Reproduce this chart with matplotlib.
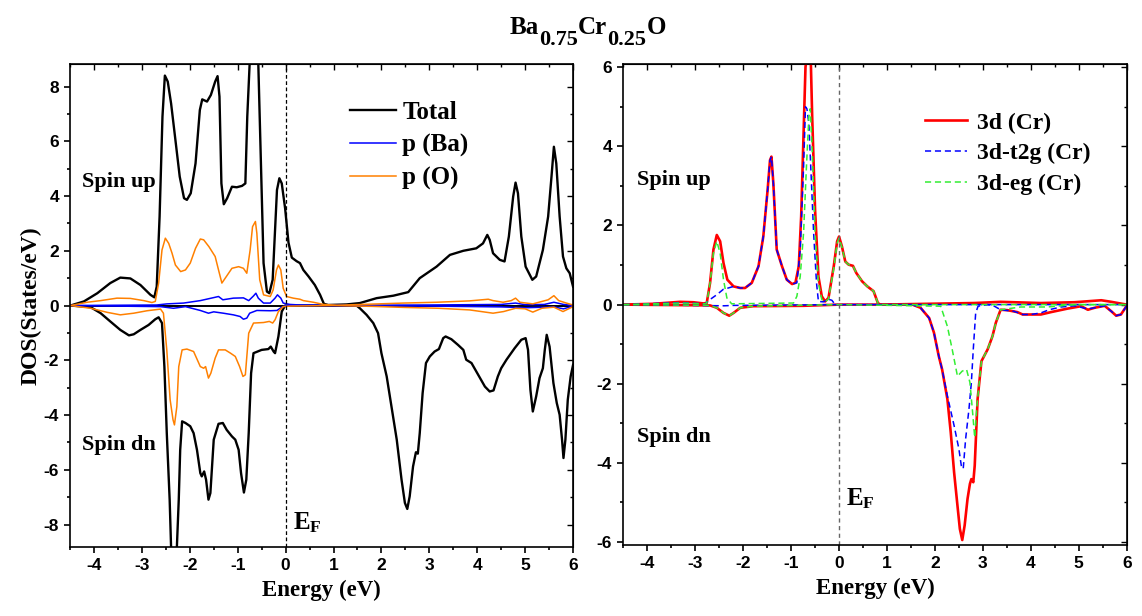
import numpy as np
import matplotlib
matplotlib.use('Agg')
import matplotlib.pyplot as plt
from matplotlib.ticker import MultipleLocator
from matplotlib.transforms import IdentityTransform

# ---- painel esquerdo: DOS total e parciais p ----
tot_up_e = [-4.49,-4.21,-3.93,-3.66,-3.45,-3.24,-3.03,-2.82,-2.74,-2.69,-2.63,-2.57,-2.52,-2.46,-2.39,-2.30,-2.21,-2.12,-2.06,-1.98,
            -1.88,-1.79,-1.74,-1.64,-1.56,-1.47,-1.42,-1.38,-1.34,-1.29,-1.22,-1.12,-1.02,-0.91,-0.84,-0.80,-0.75,-0.66,-0.57,-0.46,
            -0.39,-0.34,-0.27,-0.18,-0.13,-0.08,-0.01,0.06,0.13,0.23,0.30,0.37,0.48,0.61,0.72,0.80,0.89,1.27,1.55,1.90,
            2.25,2.56,2.80,3.15,3.43,3.71,3.98,4.12,4.21,4.26,4.33,4.47,4.57,4.66,4.75,4.80,4.85,4.92,5.01,5.15,
            5.23,5.37,5.48,5.55,5.60,5.65,5.72,5.79,5.86,5.93,6.00]
tot_up = [0.0,0.15,0.45,0.82,1.02,0.99,0.75,0.39,0.30,0.69,3.25,6.9,8.4,8.18,7.38,6.05,4.71,3.92,3.86,4.10,
          5.19,7.14,7.53,7.45,7.69,8.18,8.38,7.63,4.46,3.70,3.92,4.34,4.32,4.37,4.46,6.9,8.85,14.0,8.85,1.55,
          0.51,0.45,0.94,4.22,4.65,4.46,3.55,2.3,1.75,1.62,1.55,1.30,1.06,0.75,0.39,0.06,0.02,0.04,0.09,0.27,
          0.36,0.49,1.00,1.42,1.85,2.0,2.09,2.27,2.58,2.40,1.91,1.67,1.61,2.52,3.98,4.49,4.10,2.52,1.42,0.94,
          1.06,2.03,3.25,4.71,5.80,5.19,3.25,1.79,1.36,1.18,0.69]

tot_dn_e = [-4.49,-4.07,-3.86,-3.66,-3.45,-3.27,-3.17,-3.03,-2.86,-2.72,-2.65,-2.58,-2.53,-2.48,-2.42,-2.39,-2.34,-2.27,-2.23,-2.20,
            -2.16,-2.09,-1.99,-1.92,-1.85,-1.78,-1.75,-1.70,-1.66,-1.61,-1.57,-1.50,-1.40,-1.31,-1.23,-1.12,-1.05,-0.98,-0.93,-0.87,
            -0.82,-0.77,-0.72,-0.67,-0.50,-0.36,-0.31,-0.25,-0.22,-0.15,-0.08,-0.01,1.48,1.55,1.69,1.83,1.93,2.00,2.11,2.21,
            2.32,2.42,2.49,2.54,2.59,2.66,2.72,2.76,2.80,2.86,2.93,3.01,3.11,3.20,3.29,3.34,3.46,3.60,3.71,3.77,
            3.88,4.02,4.16,4.26,4.34,4.43,4.50,4.61,4.78,4.92,5.01,5.06,5.11,5.16,5.23,5.30,5.37,5.41,5.45,5.51,
            5.59,5.66,5.72,5.77,5.80,5.84,5.89,5.95,6.00]
tot_dn = [0.0,-0.06,-0.28,-0.58,-0.89,-1.09,-1.05,-0.89,-0.71,-0.50,-0.43,-0.64,-2.23,-4.66,-7.09,-8.85,-14.0,-8.85,-7.09,-5.27,
          -4.23,-4.29,-4.41,-4.66,-5.27,-6.12,-6.24,-6.06,-6.36,-7.09,-6.85,-4.90,-4.32,-4.29,-4.54,-4.78,-4.90,-5.27,-6.12,-6.83,
          -6.36,-4.66,-2.47,-1.74,-1.62,-1.59,-1.50,-1.68,-1.74,-1.13,-0.22,0.0,0.0,-0.10,-0.34,-0.64,-1.01,-1.74,-2.59,-3.69,
          -4.90,-6.36,-7.21,-7.43,-6.97,-5.88,-5.36,-5.41,-4.66,-3.20,-2.10,-1.86,-1.68,-1.59,-1.19,-1.13,-1.23,-1.44,-1.62,-1.98,
          -2.10,-2.53,-2.96,-3.14,-3.10,-2.59,-2.29,-1.98,-1.56,-1.25,-1.19,-1.62,-3.08,-3.87,-3.32,-2.65,-2.29,-1.62,-1.07,-1.50,
          -2.83,-3.56,-3.99,-4.90,-5.57,-4.90,-3.44,-2.59,-2.17]

pO_up_e = [-4.49,-4.14,-3.86,-3.52,-3.24,-2.96,-2.79,-2.72,-2.65,-2.58,-2.51,-2.44,-2.37,-2.30,-2.19,-2.09,-1.99,-1.88,-1.78,-1.71,
           -1.60,-1.47,-1.40,-1.33,-1.26,-1.12,-0.98,-0.88,-0.81,-0.74,-0.69,-0.63,-0.60,-0.54,-0.46,-0.32,-0.26,-0.19,-0.15,-0.10,
           -0.05,0.02,0.16,0.30,0.37,0.58,0.79,1.07,1.76,2.45,3.15,3.84,4.23,4.33,4.54,4.71,4.80,4.89,5.16,5.48,
           5.60,5.70,5.86,6.00]
pO_up = [0.0,0.12,0.18,0.27,0.26,0.18,0.11,0.15,0.82,2.03,2.46,2.27,1.91,1.48,1.24,1.30,1.55,2.09,2.43,2.40,
         2.15,1.79,1.30,0.82,1.00,1.36,1.42,1.36,1.18,2.03,2.88,3.07,2.64,0.94,0.39,0.33,0.57,1.30,1.48,1.30,
         0.63,0.33,0.27,0.23,0.18,0.12,0.04,0.01,0.05,0.09,0.12,0.17,0.23,0.18,0.12,0.18,0.27,0.12,0.06,0.21,
         0.36,0.18,0.09,0.02]

pO_dn_e = [-4.49,-4.07,-3.72,-3.45,-3.17,-2.89,-2.61,-2.55,-2.48,-2.41,-2.35,-2.32,-2.27,-2.23,-2.16,-2.06,-1.92,-1.78,-1.71,-1.67,
           -1.61,-1.56,-1.47,-1.40,-1.26,-1.15,-1.05,-0.96,-0.89,-0.84,-0.77,-0.67,-0.46,-0.34,-0.27,-0.22,-0.15,-0.05,0.10,1.00,
           1.80,2.50,3.20,3.84,4.33,4.55,4.80,5.00,5.16,5.35,5.60,5.79,6.00]
pO_dn = [0.0,-0.10,-0.25,-0.34,-0.28,-0.19,-0.13,-0.28,-1.62,-3.44,-4.17,-4.36,-3.69,-2.23,-1.62,-1.59,-1.68,-2.23,-2.29,-2.23,
         -2.65,-2.47,-1.92,-1.62,-1.62,-1.74,-1.86,-2.23,-2.59,-2.53,-1.01,-0.64,-0.62,-0.58,-0.64,-0.52,-0.22,-0.04,-0.02,0.0,
         -0.03,-0.07,-0.10,-0.16,-0.28,-0.22,-0.10,-0.12,-0.24,-0.10,-0.06,-0.22,-0.04]

pBa_up_e = [-4.49,-2.69,-2.48,-2.13,-1.78,-1.50,-1.40,-1.31,-1.09,-0.88,-0.77,-0.67,-0.62,-0.57,-0.46,-0.32,-0.22,-0.17,-0.10,-0.05,
            0.09,0.30,1.00,3.00,4.50,4.80,5.00,5.40,5.60,5.80,6.00]
pBa_up = [0.0,0.02,0.06,0.09,0.18,0.29,0.33,0.21,0.27,0.28,0.18,0.35,0.45,0.27,0.09,0.09,0.27,0.39,0.27,0.09,
          0.04,0.02,0.01,0.02,0.04,0.09,0.03,0.04,0.12,0.04,0.0]

pBa_dn_e = [-4.49,-2.61,-2.34,-2.09,-1.78,-1.61,-1.50,-1.30,-1.09,-0.95,-0.88,-0.81,-0.75,-0.60,-0.32,-0.18,-0.08,0.0,1.00,3.00,
            4.50,5.00,5.60,5.80,6.00]
pBa_dn = [0.0,-0.04,-0.10,-0.04,-0.18,-0.28,-0.23,-0.28,-0.34,-0.40,-0.50,-0.46,-0.28,-0.18,-0.19,-0.18,-0.06,0.0,-0.01,-0.02,
          -0.05,-0.08,-0.05,-0.12,-0.02]

# ---- painel direito: 3d do Cr ----
d_up_e = [-4.50,-3.88,-3.32,-3.04,-2.83,-2.76,-2.69,-2.62,-2.55,-2.48,-2.41,-2.33,-2.20,-2.06,-1.96,-1.82,-1.68,-1.58,-1.49,-1.44,
          -1.41,-1.37,-1.30,-1.19,-1.09,-0.98,-0.91,-0.84,-0.79,-0.74,-0.70,-0.67,-0.63,-0.59,-0.56,-0.50,-0.43,-0.36,-0.29,-0.22,
          -0.11,-0.04,0.0,0.06,0.13,0.20,0.29,0.36,0.48,0.59,0.72,0.81,0.86,2.82,3.37,4.21,4.91,5.47,5.68,6.00]
d_up = [0.0,0.02,0.07,0.06,0.03,0.04,0.55,1.39,1.76,1.60,1.05,0.63,0.46,0.42,0.42,0.55,0.97,1.72,2.90,3.65,
        3.74,3.06,1.39,0.97,0.63,0.52,0.55,0.97,2.23,4.32,6.0,6.3,7.5,6.2,4.74,2.39,0.71,0.21,0.08,0.17,
        0.97,1.60,1.72,1.47,1.09,1.01,0.98,0.80,0.59,0.46,0.34,0.04,0.0,0.04,0.07,0.04,0.06,0.11,0.07,0.0]

d_dn_e = [-4.50,-2.69,-2.55,-2.41,-2.29,-2.20,-2.06,-1.79,-0.74,0.0,1.53,1.70,1.88,1.98,2.08,2.15,2.26,2.33,2.40,2.47,
          2.52,2.57,2.62,2.68,2.73,2.76,2.80,2.83,2.89,2.97,3.10,3.20,3.27,3.37,3.51,3.72,3.83,4.00,4.21,4.42,
          4.77,5.05,5.19,5.33,5.54,5.68,5.78,5.88,6.00]
d_dn = [0.0,-0.02,-0.08,-0.21,-0.28,-0.21,-0.08,-0.04,-0.03,0.0,0.0,-0.08,-0.34,-0.71,-1.30,-1.64,-2.39,-3.23,-4.24,-5.08,
        -5.67,-5.95,-5.58,-4.91,-4.53,-4.41,-4.49,-4.07,-2.39,-1.43,-1.13,-0.80,-0.46,-0.13,-0.14,-0.19,-0.25,-0.25,-0.25,-0.19,
        -0.10,-0.04,-0.13,-0.08,-0.03,-0.17,-0.28,-0.25,-0.03]

t2g_up_e = [-4.50,-3.32,-2.80,-2.69,-2.55,-2.41,-2.31,-2.20,-2.06,-1.96,-1.82,-1.68,-1.58,-1.49,-1.44,-1.41,-1.37,-1.30,-1.19,-1.09,
            -0.98,-0.88,-0.81,-0.74,-0.70,-0.67,-0.63,-0.59,-0.53,-0.47,-0.43,-0.32,-0.24,-0.15,-0.08,6.00]
t2g_up = [0.0,0.05,0.02,0.13,0.25,0.39,0.42,0.46,0.42,0.42,0.55,0.97,1.72,2.90,3.65,3.74,3.06,1.39,0.97,0.63,
          0.52,0.55,1.39,3.48,5.0,4.95,4.58,3.48,1.81,0.55,0.08,0.07,0.14,0.11,0.0,0.0]

t2g_dn_e = [-4.50,-2.40,-2.20,0.0,1.53,1.70,1.88,1.98,2.08,2.15,2.26,2.40,2.50,2.55,2.59,2.64,2.71,2.76,2.80,2.85,
            2.90,3.10,3.24,3.37,3.65,3.83,4.00,4.21,4.38,4.63,4.91,5.19,5.33,5.54,5.68,5.78,5.88,6.00]
t2g_dn = [0.0,-0.03,-0.02,0.0,0.0,-0.08,-0.34,-0.71,-1.30,-1.64,-2.31,-3.06,-3.65,-4.07,-4.15,-3.40,-2.64,-1.97,-1.13,-0.21,
          -0.04,0.0,-0.04,-0.13,-0.17,-0.25,-0.25,-0.21,-0.13,-0.06,-0.03,-0.11,-0.08,-0.03,-0.17,-0.28,-0.25,-0.03]

eg_up_e = [-4.50,-3.30,-2.80,-2.76,-2.69,-2.62,-2.55,-2.48,-2.41,-2.34,-2.24,-0.95,-0.88,-0.81,-0.74,-0.68,-0.63,-0.60,-0.56,-0.50,
           -0.43,-0.36,-0.29,-0.22,-0.11,-0.04,0.0,0.06,0.13,0.20,0.29,0.36,0.48,0.59,0.72,0.81,0.86,6.00]
eg_up = [0.0,0.04,0.02,0.04,0.55,1.30,1.60,1.30,0.63,0.17,0.02,0.04,0.21,0.71,1.81,3.48,4.74,4.95,3.90,1.81,
         0.55,0.13,0.07,0.14,0.92,1.55,1.68,1.45,1.09,1.01,0.98,0.80,0.59,0.46,0.34,0.04,0.0,0.0]

eg_dn_e = [-4.50,-2.69,-2.55,-2.41,-2.29,-2.20,-2.06,-1.79,0.0,2.12,2.26,2.36,2.47,2.57,2.66,2.73,2.78,2.83,2.88,2.97,
           3.10,3.20,3.27,3.37,3.79,4.35,4.91,6.00]
eg_dn = [0.0,-0.02,-0.08,-0.21,-0.28,-0.21,-0.08,-0.04,0.0,-0.04,-0.55,-1.13,-1.81,-1.68,-1.64,-1.97,-2.64,-3.36,-2.50,-1.43,
         -1.13,-0.80,-0.46,-0.13,-0.06,-0.06,0.0,0.0]

# titulo: (texto, tamanho, deslocamento vertical em px)
titulo = [('Ba', 18, 0), ('0.75', 16, -11), ('Cr', 18, 0), ('0.25', 16, -11), ('O', 18, 0)]

# fontes
plt.rcParams['font.family'] = 'Liberation Serif'
plt.rcParams['font.weight'] = 'bold'
plt.rcParams['axes.unicode_minus'] = False
plt.rcParams['mathtext.fontset'] = 'custom'
plt.rcParams['mathtext.rm'] = 'Liberation Serif:bold'
plt.rcParams['mathtext.it'] = 'Liberation Serif:bold'
plt.rcParams['mathtext.bf'] = 'Liberation Serif:bold'

fig = plt.figure(figsize=(11.42, 6.16), dpi=100)
ax1 = fig.add_axes([0.0613, 0.112, 0.4405, 0.784])
ax2 = fig.add_axes([0.5458, 0.115, 0.4408, 0.781])

def estilo(ax, ymaj):
    ax.set_xlim(-4.5, 6)
    ax.xaxis.set_major_locator(MultipleLocator(1))
    ax.xaxis.set_minor_locator(MultipleLocator(0.5))
    ax.yaxis.set_major_locator(MultipleLocator(ymaj))
    ax.yaxis.set_minor_locator(MultipleLocator(1))
    ax.tick_params(which='both', direction='out', top=False, right=False, width=1.2)
    ax.tick_params(which='major', length=4.5, labelsize=12.5)
    ax.tick_params(which='minor', length=2.5)
    for lab in ax.get_xticklabels() + ax.get_yticklabels():
        lab.set_family('Liberation Sans')
        lab.set_weight('bold')
    for s in ax.spines.values():
        s.set_linewidth(1.2)
    # ticks internos no topo e na direita
    sec = ax.secondary_xaxis('top')
    sec.xaxis.set_major_locator(MultipleLocator(1))
    sec.xaxis.set_minor_locator(MultipleLocator(0.5))
    sec.tick_params(which='both', direction='in', labeltop=False, width=1.0)
    sec.tick_params(which='major', length=4)
    sec.tick_params(which='minor', length=2.5)
    sec2 = ax.secondary_yaxis('right')
    sec2.yaxis.set_major_locator(MultipleLocator(ymaj))
    sec2.yaxis.set_minor_locator(MultipleLocator(1))
    sec2.tick_params(which='both', direction='in', labelright=False, width=1.0)
    sec2.tick_params(which='major', length=4)
    sec2.tick_params(which='minor', length=2.5)
    ax.set_xlabel('Energy (eV)', fontsize=16.5, fontweight='bold', labelpad=5)

# painel esquerdo
l1, = ax1.plot(tot_up_e, tot_up, color='black', lw=1.7)
ax1.plot(tot_dn_e, tot_dn, color='black', lw=1.7)
ax1.axhline(0, color='black', lw=1.4)
l2, = ax1.plot(pBa_up_e, pBa_up, color='#0000FF', lw=1.1)
ax1.plot(pBa_dn_e, pBa_dn, color='#0000FF', lw=1.1)
l3, = ax1.plot(pO_up_e, pO_up, color='#FF8000', lw=1.1)
ax1.plot(pO_dn_e, pO_dn, color='#FF8000', lw=1.1)
ax1.axvline(0, color='black', lw=0.9, ls=(0, (3, 2)))
ax1.set_ylim(-8.82, 8.82)
estilo(ax1, 2)
ax1.set_ylabel('DOS(States/eV)', fontsize=17, fontweight='bold', labelpad=1)
ax1.legend([l1, l2, l3], ['Total', 'p (Ba)', 'p (O)'], loc='upper left', bbox_to_anchor=(0.557, 0.924),
           frameon=False, fontsize=18, handlelength=1.84, handletextpad=0.24, labelspacing=0.39,
           borderpad=0, borderaxespad=0)
ax1.text(-4.25, 4.5, 'Spin up', fontsize=16, fontweight='bold', va='center')
ax1.text(-4.25, -5.1, 'Spin dn', fontsize=16, fontweight='bold', va='center')
ax1.text(0.15, -7.95, r'E$_F$', fontsize=18, va='center')

# painel direito
r1, = ax2.plot(d_up_e, d_up, color='#FF0000', lw=1.9)
ax2.plot(d_dn_e, d_dn, color='#FF0000', lw=1.9)
r2, = ax2.plot(t2g_up_e, t2g_up, color='#0000FF', lw=1.1, ls=(0, (4, 2.5)))
ax2.plot(t2g_dn_e, t2g_dn, color='#0000FF', lw=1.1, ls=(0, (4, 2.5)))
r3, = ax2.plot(eg_up_e, eg_up, color='#33EE33', lw=1.1, ls=(0, (4, 2.5)))
ax2.plot(eg_dn_e, eg_dn, color='#33EE33', lw=1.1, ls=(0, (4, 2.5)))
ax2.axvline(0, color='#666666', lw=1.0, ls=(0, (3, 2.5)))
ax2.set_ylim(-6.08, 6.08)
estilo(ax2, 2)
ax2.legend([r1, r2, r3], ['3d (Cr)', '3d-t2g (Cr)', '3d-eg (Cr)'], loc='upper left', bbox_to_anchor=(0.599, 0.9),
           frameon=False, fontsize=17, handlelength=1.78, handletextpad=0.42, labelspacing=0.39,
           borderpad=0, borderaxespad=0)
ax2.text(-4.22, 3.15, 'Spin up', fontsize=16, fontweight='bold', va='center')
ax2.text(-4.22, -3.35, 'Spin dn', fontsize=16, fontweight='bold', va='center')
ax2.text(0.15, -4.9, r'E$_F$', fontsize=18, va='center')

# titulo montado pedaco a pedaco (subscritos maiores que os do mathtext)
rend = fig.canvas.get_renderer()
x = 510.0
H = fig.bbox.height
for s, tam, dy in titulo:
    t = fig.text(x, H - 34 + dy, s, fontsize=tam, ha='left', va='baseline', transform=IdentityTransform())
    x += t.get_window_extent(rend).width

plt.savefig('out.png', dpi=100)
